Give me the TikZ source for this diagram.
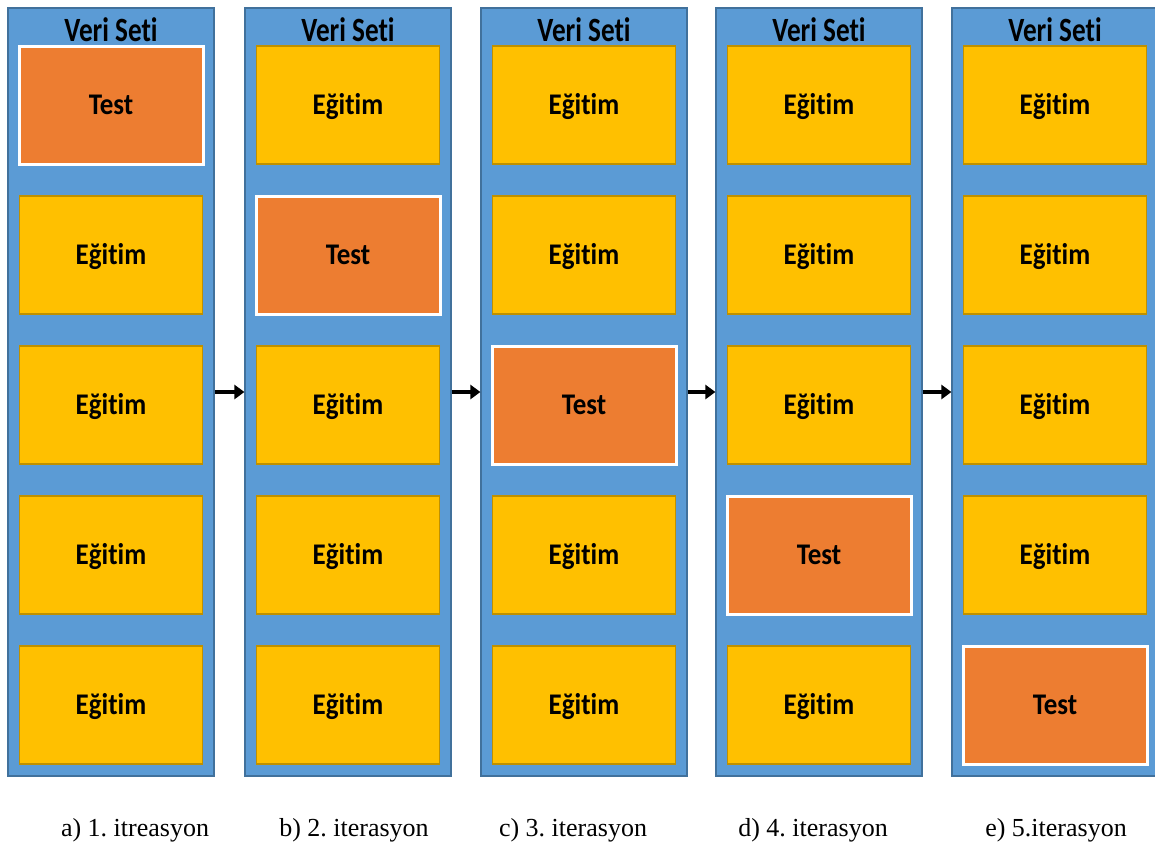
\documentclass[tikz,border=0pt]{standalone}
\usepackage{fontspec}
\setmainfont{Liberation Serif}
\newfontfamily\labelfont[Ligatures=CommonOff,FakeStretch=0.9]{Carlito}
\newfontfamily\headfont[Ligatures=CommonOff,FakeStretch=0.8]{Carlito}
\usetikzlibrary{arrows.meta}
\definecolor{colblue}{HTML}{5B9BD5}
\definecolor{colblueedge}{HTML}{41719C}
\definecolor{foldyellow}{HTML}{FFC000}
\definecolor{foldyellowedge}{HTML}{BF9000}
\definecolor{foldorange}{HTML}{ED7D31}
\tikzset{
  dataset/.style={rectangle, fill=colblue, draw=colblueedge, line width=1.2pt,
    minimum width=206pt, minimum height=768pt, inner sep=0pt},
  heading/.style={font=\headfont\bfseries\fontsize{34}{36}\selectfont, inner sep=0pt},
  foldbase/.style={rectangle, minimum width=183pt, minimum height=118pt, inner sep=0pt,
    text height=22pt, text depth=4pt,
    font=\labelfont\bfseries\fontsize{30}{32}\selectfont},
  trainbox/.style={foldbase, fill=foldyellow, draw=foldyellowedge, line width=1.2pt},
  testbox/.style={foldbase, fill=foldorange, draw=white, line width=3pt,
    minimum width=184pt},
  flow/.style={line width=4.5pt, -{Triangle[length=10pt,width=14pt]}},
  caption/.style={font=\frenchspacing\fontsize{26}{30}\selectfont, inner sep=0pt}
}
\begin{document}
\begin{tikzpicture}[x=1pt,y=-1pt]
\useasboundingbox (0,0) rectangle (1155,847);
\clip (0,0) rectangle (1155,847);
% five folds of the data set, one column per iteration
\foreach \i/\cx/\t in {1/111/1, 2/348/2, 3/584/3, 4/819/4, 5/1055/5} {
  \node[dataset] (c\i) at (\cx,392) {};
  \node[heading] (h\i) at (\cx,30) {Veri Seti};
  \foreach \r/\ry in {1/105, 2/255, 3/405, 4/555, 5/705} {
    \ifnum\r=\t
      \node[testbox] (b\i\r) at (\cx,\ry) {Test};
    \else
      \node[trainbox] (b\i\r) at (\cx,\ry) {Eğitim};
    \fi
  }
}
% arrows between iterations
\foreach \a/\b in {1/2, 2/3, 3/4, 4/5} {
  \draw[flow] (c\a.east) -- (c\b.west);
}
% captions
\node[caption] (t1) at (135,830) {a) 1. itreasyon};
\node[caption] (t2) at (354,830) {b) 2. iterasyon};
\node[caption] (t3) at (573,830) {c) 3. iterasyon};
\node[caption] (t4) at (813,830) {d) 4. iterasyon};
\node[caption] (t5) at (1056,830) {e) 5.iterasyon};
\end{tikzpicture}
\end{document}
